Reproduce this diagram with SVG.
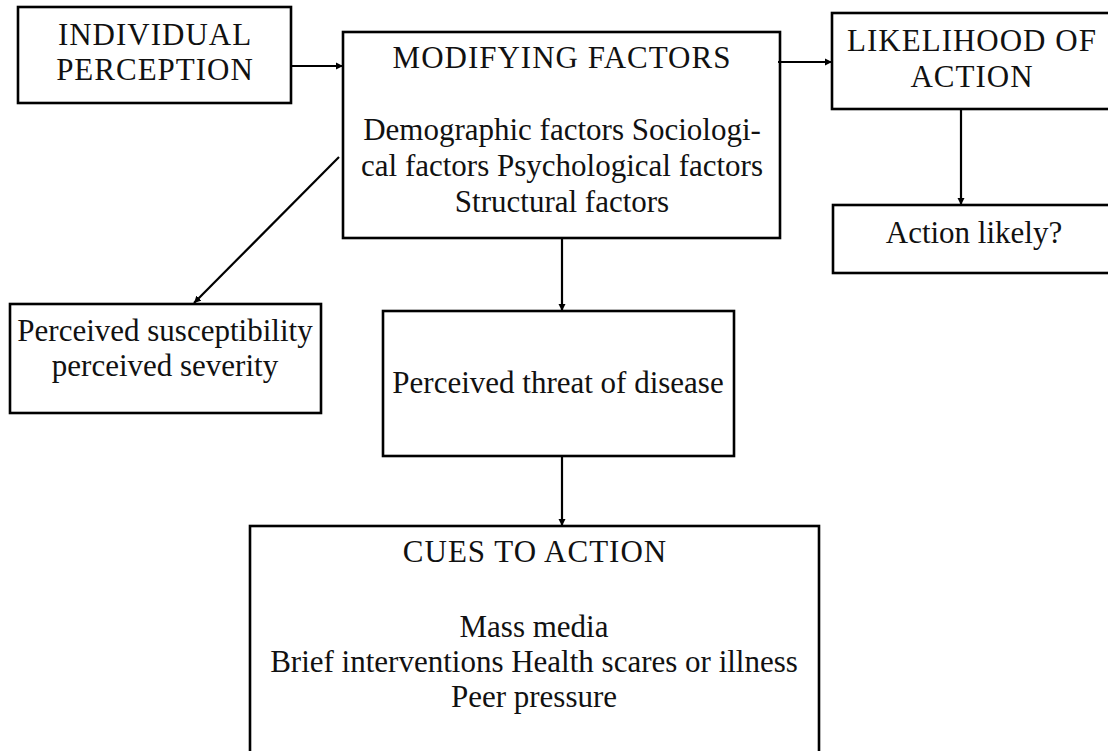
<svg xmlns="http://www.w3.org/2000/svg" width="1108" height="751" viewBox="0 0 1108 751">
<style>
.box{fill:#fff;stroke:#000;stroke-width:2.6}
.t{font-family:"Liberation Serif","Times New Roman",serif;font-size:31px;fill:#111;text-anchor:middle}
.cap{letter-spacing:1px}
.c{stroke:#000;stroke-width:2.2;fill:none;marker-end:url(#ah)}
</style>
<defs>
<marker id="ah" markerUnits="userSpaceOnUse" markerWidth="10" markerHeight="10" refX="7" refY="4" orient="auto">
<path d="M0,0.5 L7,4 L0,7.5 z" fill="#000"/>
</marker>
</defs>
<rect width="1108" height="751" fill="#fff"/>
<g id="individual-perception">
<rect class="box" x="18" y="7" width="273" height="96"/>
<text class="t cap" x="155" y="45">INDIVIDUAL</text>
<text class="t cap" x="155" y="80">PERCEPTION</text>
</g>
<g id="modifying-factors">
<rect class="box" x="343" y="32" width="437" height="206"/>
<text class="t cap" x="562" y="68">MODIFYING FACTORS</text>
<text class="t" x="562" y="140">Demographic factors Sociologi-</text>
<text class="t" x="562" y="176">cal factors Psychological factors</text>
<text class="t" x="562" y="212">Structural factors</text>
</g>
<g id="likelihood-of-action">
<rect class="box" x="832" y="13" width="290" height="96"/>
<text class="t cap" x="972" y="51">LIKELIHOOD OF</text>
<text class="t cap" x="972" y="87">ACTION</text>
</g>
<g id="action-likely">
<rect class="box" x="833" y="205" width="290" height="68"/>
<text class="t" x="974" y="243">Action likely?</text>
</g>
<g id="perceived-susceptibility">
<rect class="box" x="10" y="304" width="311" height="109"/>
<text class="t" x="165" y="341">Perceived susceptibility</text>
<text class="t" x="165" y="376">perceived severity</text>
</g>
<g id="perceived-threat">
<rect class="box" x="383" y="311" width="351" height="145"/>
<text class="t" x="558" y="393">Perceived threat of disease</text>
</g>
<g id="cues-to-action">
<rect class="box" x="250" y="526" width="569" height="240"/>
<text class="t cap" x="535" y="562">CUES TO ACTION</text>
<text class="t" x="534" y="637">Mass media</text>
<text class="t" x="534" y="672">Brief interventions Health scares or illness</text>
<text class="t" x="534" y="707">Peer pressure</text>
</g>
<g id="connectors">
<line class="c" x1="290" y1="66" x2="343" y2="66"/>
<line class="c" x1="778" y1="62" x2="832" y2="62"/>
<line class="c" x1="961" y1="109" x2="961" y2="205"/>
<line class="c" x1="339" y1="157" x2="194" y2="303"/>
<line class="c" x1="562" y1="238" x2="562" y2="311"/>
<line class="c" x1="562" y1="455" x2="562" y2="526"/>
</g>
</svg>
